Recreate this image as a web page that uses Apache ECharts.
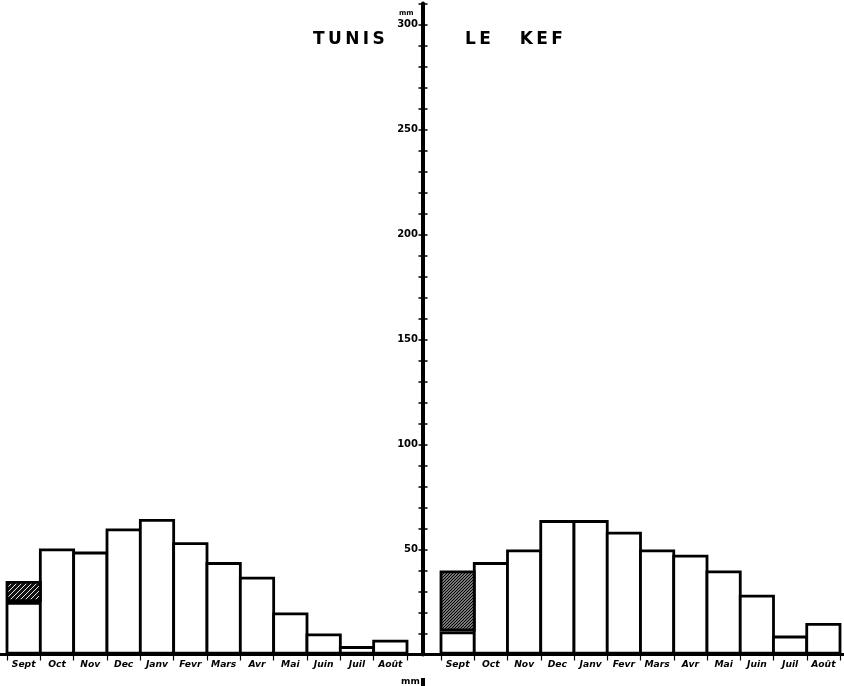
<!DOCTYPE html>
<html><head><meta charset="utf-8">
<script src="https://cdn.jsdelivr.net/npm/echarts@6/dist/echarts.min.js"></script>
<style>html,body{margin:0;padding:0;background:#fff}#c{width:844px;height:686px}</style>
</head><body><div id="c"></div>
<script>
// ---- data ----
const months = ['Sept','Oct','Nov','Dec','Janv','Fevr','Mars','Avr','Mai','Juin','Juil','Août'];
const tunisPlain   = [25, 50.5, 49, 60, 64.5, 53.5, 44, 37, 20, 10, 4, 7];
const tunisHatched = [10, '-', '-', '-', '-', '-', '-', '-', '-', '-', '-', '-'];
const kefPlain     = [11, 44, 50, 64, 64, 58.5, 50, 47.5, 40, 28.5, 9, 15];
const kefHatched   = [29, '-', '-', '-', '-', '-', '-', '-', '-', '-', '-', '-'];
const yLabelValues = [50, 100, 150, 200, 250, 300];
const titles = ['TUNIS', 'LE KEF'];

function hatch(bg, fg, step, lw) {
  const c = document.createElement('canvas');
  c.width = step; c.height = step;
  const g = c.getContext('2d');
  g.fillStyle = bg; g.fillRect(0, 0, step, step);
  g.strokeStyle = fg; g.lineWidth = lw;
  g.beginPath();
  g.moveTo(-1, step + 1); g.lineTo(step + 1, -1);
  g.moveTo(-1, 1); g.lineTo(1, -1);
  g.moveTo(step - 1, step + 1); g.lineTo(step + 1, step - 1);
  g.stroke();
  return c;
}
const tunisPattern = {image: hatch('#111', '#fff', 5, 0.9), repeat: 'repeat'};
const kefPattern = {image: hatch('#fff', '#000', 3, 1.5), repeat: 'repeat'};

const font = 'DejaVu Sans';
const TOP = 3.5, BOTTOM = 31.5;
const BW = 2.8;
const leftGrid = {left: 7, right: 844 - 407, top: TOP, bottom: BOTTOM};
const rightGrid = {left: 441, right: 844 - 840, top: TOP, bottom: BOTTOM};
const leftBarW = (844 - leftGrid.left - leftGrid.right) / months.length + BW;
const rightBarW = (844 - rightGrid.left - rightGrid.right) / months.length + BW;

function xAxisFor(gi) {
  return {
    type: 'category', gridIndex: gi, data: months,
    axisLine: {show: true, lineStyle: {color: '#000', width: 3}},
    axisTick: {show: true, interval: 0, length: 6, lineStyle: {color: '#000', width: 1.2}},
    axisLabel: {interval: 0, hideOverlap: false, color: '#000', fontFamily: font, fontStyle: 'italic', fontWeight: 'bold', fontSize: 9.2, margin: 6},
    splitLine: {show: false}
  };
}
function bars(xi, data, color, stack, w) {
  return {type: 'bar', xAxisIndex: xi, yAxisIndex: xi, stack: stack, data: data, barWidth: w,
    itemStyle: {color: color, borderColor: '#000', borderWidth: BW}};
}

const chart = echarts.init(document.getElementById('c'));
chart.setOption({
  backgroundColor: '#fff',
  animation: false,
  title: [
    {text: titles[0].split('').join('\u2009'), left: 313, top: 31, padding: 0,
     textStyle: {fontFamily: font, fontWeight: 'bold', fontSize: 17, color: '#000'}},
    {text: titles[1].split(' ').map(w => w.split('').join('\u2009')).join('\u2003\u2002\u2009'), left: 465, top: 31, padding: 0,
     textStyle: {fontFamily: font, fontWeight: 'bold', fontSize: 17, color: '#000'}},
    {text: 'mm', left: 399, top: 10, padding: 0,
     textStyle: {fontFamily: font, fontWeight: 'bold', fontSize: 7, color: '#000'}},
    {text: 'mm', left: 401, top: 677, padding: 0,
     textStyle: {fontFamily: font, fontWeight: 'bold', fontSize: 9, color: '#000'}}
  ],
  graphic: [
    {type: 'rect', shape: {x: 421, y: 678, width: 4, height: 8}, style: {fill: '#000'}}
  ],
  grid: [leftGrid, rightGrid, {left: 0, right: 0, top: TOP, bottom: BOTTOM}],
  xAxis: [
    xAxisFor(0), xAxisFor(1),
    {type: 'value', gridIndex: 2, min: 0, max: 1, axisLine: {show: true, lineStyle: {color: '#000', width: 3}},
     axisTick: {show: false}, axisLabel: {show: false}, splitLine: {show: false}}
  ],
  yAxis: [
    {type: 'value', gridIndex: 0, position: 'right', offset: 16, min: 0, max: 310, interval: 10,
     axisLine: {show: true, lineStyle: {color: '#000', width: 4}},
     axisTick: {show: true, inside: true, length: 4.5, lineStyle: {color: '#000', width: 1.5}},
     axisLabel: {show: true, inside: true, margin: 5, color: '#000', fontFamily: font, fontWeight: 'bold', fontSize: 10,
       formatter: v => yLabelValues.indexOf(v) >= 0 ? String(v) : ''},
     splitLine: {show: false}},
    {type: 'value', gridIndex: 1, position: 'left', offset: 18, min: 0, max: 310, interval: 10,
     axisLine: {show: false},
     axisTick: {show: true, inside: true, length: 4.5, lineStyle: {color: '#000', width: 1.5}},
     axisLabel: {show: false}, splitLine: {show: false}},
    {type: 'value', gridIndex: 2, min: 0, max: 310, show: false}
  ],
  series: [
    bars(0, tunisPlain, '#fff', 't', leftBarW),
    bars(0, tunisHatched, tunisPattern, 't', leftBarW),
    bars(1, kefPlain, '#fff', 'k', rightBarW),
    bars(1, kefHatched, kefPattern, 'k', rightBarW)
  ]
});
</script>
</body></html>
